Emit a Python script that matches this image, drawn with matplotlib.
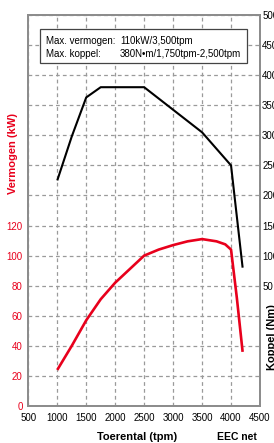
import numpy as np
import matplotlib
matplotlib.use("Agg")
import matplotlib.pyplot as plt
from matplotlib.patches import Rectangle

plt.rcParams['font.family'] = ['Liberation Sans', 'DejaVu Sans']

# engine speed (tpm) and curves
rpm_power = [1000, 1250, 1500, 1750, 2000, 2250, 2500, 2750, 3000, 3250, 3500, 3750, 3900, 4000, 4100, 4200]
power_kw = [24, 40, 57, 71, 82, 91, 100, 104, 107, 109.5, 111, 109.5, 107.5, 104, 72, 36]

rpm_torque = [1000, 1250, 1500, 1750, 2500, 3500, 4000, 4200]
torque_nm = [225, 298, 363, 380, 380, 305, 250, 80]

x_ticks = [500, 1000, 1500, 2000, 2500, 3000, 3500, 4000, 4500]
left_ticks = list(range(0, 261, 20))
left_labels = [str(v) if v <= 120 else '' for v in left_ticks]
right_ticks = list(range(50, 501, 50))

red = '#e8001c'
grid_col = '#9a9a9a'

fig = plt.figure(figsize=(2.74, 4.43), dpi=100)
ax = fig.add_axes([0.1033, 0.0835, 0.8456, 0.8826])
ax2 = ax.twinx()

ax.plot(rpm_power, power_kw, color=red, lw=1.9, solid_capstyle='butt', zorder=3)
ax2.plot(rpm_torque, torque_nm, color='black', lw=1.5, solid_capstyle='butt', zorder=3)

ax.set_xlim(500, 4500)
ax.set_ylim(0, 260)
ax2.set_ylim(-150, 500)

ax.set_xticks(x_ticks)
ax.set_yticks(left_ticks)
ax.set_yticklabels(left_labels)
ax2.set_yticks(right_ticks)

ax.tick_params(axis='x', length=0, pad=5, labelsize=7, colors='black')
ax.tick_params(axis='y', length=0, pad=4, labelsize=7, labelcolor=red)
ax2.tick_params(axis='y', length=0, pad=1.5, labelsize=7, labelcolor='black')

ax.grid(True, color=grid_col, ls=(0, (3, 2.5)), lw=0.9)
ax.set_axisbelow(True)

for a in (ax, ax2):
    for s in a.spines.values():
        s.set_color('#8c8c8c')
        s.set_linewidth(1.3)

# spec box
ax.add_patch(Rectangle((0.0505, 0.878), 0.892, 0.0854, transform=ax.transAxes,
                       facecolor='white', edgecolor='#444444', lw=0.9, zorder=5))
ax.text(0.0764, 0.9335, 'Max. vermogen:', transform=ax.transAxes, fontsize=7, va='center', zorder=6)
ax.text(0.3958, 0.9335, '110kW/3,500tpm', transform=ax.transAxes, fontsize=7, va='center', zorder=6)
ax.text(0.0764, 0.9003, 'Max. koppel:', transform=ax.transAxes, fontsize=7, va='center', zorder=6)
ax.text(0.3958, 0.9003, '380N\u2022m/1,750tpm-2,500tpm', transform=ax.transAxes, fontsize=7, va='center', zorder=6)

fig.text(137 / 274, 1 - 436.7 / 443, 'Toerental (tpm)', ha='center', va='center',
         fontsize=8, fontweight='bold')
fig.text(237 / 274, 1 - 436.7 / 443, 'EEC net', ha='center', va='center',
         fontsize=7.5, fontweight='bold')
fig.text(13 / 274, 1 - 154 / 443, 'Vermogen (kW)', ha='center', va='center', rotation=90,
         fontsize=8, fontweight='bold', color=red)
fig.text(272 / 274, 1 - 337 / 443, 'Koppel (Nm)', ha='center', va='center', rotation=90,
         fontsize=8, fontweight='bold', color='black')

fig.savefig('out.png', dpi=100)
